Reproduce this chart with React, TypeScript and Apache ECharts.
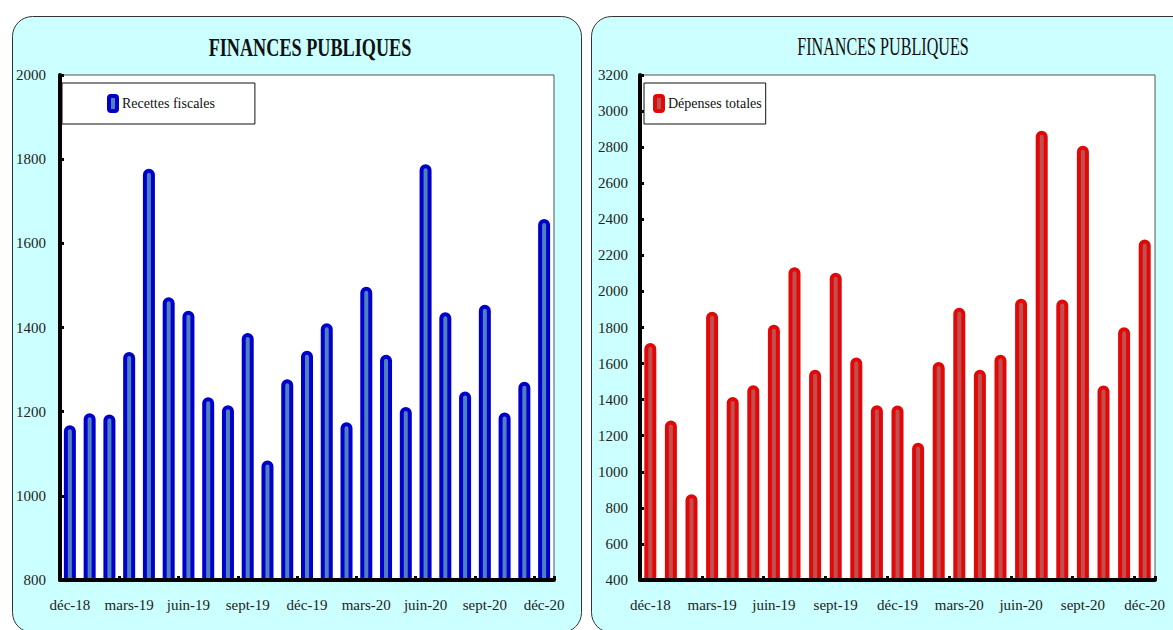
import React, { useEffect, useRef } from "react";
import * as echarts from "echarts";

const months = [
  "déc-18", "janv-19", "févr-19", "mars-19", "avr-19", "mai-19", "juin-19",
  "juil-19", "août-19", "sept-19", "oct-19", "nov-19", "déc-19", "janv-20",
  "févr-20", "mars-20", "avr-20", "mai-20", "juin-20", "juil-20", "août-20",
  "sept-20", "oct-20", "nov-20", "déc-20",
];

const recettesFiscales = [
  1168, 1196, 1193, 1342, 1777, 1472, 1440, 1234, 1215, 1387, 1084, 1277, 1345,
  1410, 1175, 1497, 1335, 1211, 1788, 1436, 1248, 1454, 1198, 1271, 1658,
];

const depensesTotales = [
  1714, 1284, 876, 1888, 1415, 1480, 1815, 2134, 1566, 2104, 1634, 1369, 1367,
  1161, 1609, 1910, 1566, 1649, 1960, 2891, 1955, 2808, 1478, 1802, 2288,
];

const title = "FINANCES PUBLIQUES";
const leftSeriesName = "Recettes fiscales";
const rightSeriesName = "Dépenses totales";

const FONT = "'Liberation Serif', 'DejaVu Serif', serif";

export default function App() {
  const ref = useRef<HTMLDivElement>(null);

  useEffect(() => {
    if (!ref.current) return;
    const chart = echarts.init(ref.current, undefined, { renderer: "svg" });

    const blue = { color: "#4f81bd", borderColor: "#0000cc", borderWidth: 4, borderRadius: [5, 5, 0, 0] };
    const red = { color: "#c0504d", borderColor: "#e00808", borderWidth: 4, borderRadius: [5, 5, 0, 0] };

    const axisLine = { show: true, lineStyle: { color: "#000", width: 4 } };
    const yTick = { show: true, inside: true, length: 4, lineStyle: { color: "#000", width: 3 } };
    const xTick = { show: true, inside: true, interval: 2, length: 4, lineStyle: { color: "#000", width: 3 } };
    const labelStyle = { fontFamily: FONT, fontSize: 15, color: "#222" };
    const plain = (v: number) => String(v);

    chart.setOption({
      animation: false,
      backgroundColor: "#ffffff",
      graphic: [
        {
          type: "rect",
          z: -10,
          shape: { x: 12.5, y: 16.5, width: 569, height: 616, r: 20 },
          style: { fill: "#ccffff", stroke: "#333", lineWidth: 1 },
        },
        {
          type: "rect",
          z: -10,
          shape: { x: 591.5, y: 16.5, width: 620, height: 616, r: 20 },
          style: { fill: "#ccffff", stroke: "#333", lineWidth: 1 },
        },
        {
          type: "text",
          z: 10,
          x: 310,
          y: 47,
          scaleX: 0.7,
          style: {
            text: title,
            x: 0,
            y: 0,
            align: "center",
            verticalAlign: "middle",
            fontFamily: FONT,
            fontSize: 26,
            fontWeight: "bold",
            fill: "#111",
          },
        },
        {
          type: "text",
          z: 10,
          x: 883,
          y: 47,
          scaleX: 0.62,
          style: {
            text: title,
            x: 0,
            y: 0,
            align: "center",
            verticalAlign: "middle",
            fontFamily: FONT,
            fontSize: 26,
            fontWeight: "normal",
            fill: "#111",
          },
        },
      ],
      grid: [
        {
          left: 60, right: 619, top: 75, bottom: 50,
          show: true, backgroundColor: "#ffffff", borderColor: "#555", borderWidth: 1,
        },
        {
          left: 640, right: 18, top: 75, bottom: 50,
          show: true, backgroundColor: "#ffffff", borderColor: "#555", borderWidth: 1,
        },
      ],
      legend: [
        {
          data: [{ name: leftSeriesName, itemStyle: { color: "#4f81bd", borderColor: "#0000cc", borderWidth: 4 } }],
          left: 62,
          top: 83,
          padding: [11, 40, 11, 45],
          icon: "roundRect",
          itemWidth: 8,
          itemHeight: 15,
          backgroundColor: "#ffffff",
          borderColor: "#111",
          borderWidth: 1,
          textStyle: { fontFamily: FONT, fontSize: 14, color: "#111" },
        },
        {
          data: [{ name: rightSeriesName, itemStyle: { color: "#c0504d", borderColor: "#e00808", borderWidth: 4 } }],
          left: 644,
          top: 83,
          padding: [11, 4, 11, 9],
          icon: "roundRect",
          itemWidth: 8,
          itemHeight: 15,
          backgroundColor: "#ffffff",
          borderColor: "#111",
          borderWidth: 1,
          textStyle: { fontFamily: FONT, fontSize: 14, color: "#111" },
        },
      ],
      xAxis: [
        {
          type: "category",
          gridIndex: 0,
          data: months,
          z: 10,
          boundaryGap: true,
          axisLine,
          axisTick: xTick,
          axisLabel: { ...labelStyle, interval: 2, margin: 17 },
        },
        {
          type: "category",
          gridIndex: 1,
          data: months,
          z: 10,
          boundaryGap: true,
          axisLine,
          axisTick: xTick,
          axisLabel: { ...labelStyle, interval: 2, margin: 17 },
        },
      ],
      yAxis: [
        {
          type: "value",
          gridIndex: 0,
          min: 800,
          max: 2000,
          interval: 200,
          z: 10,
          axisLine,
          axisTick: yTick,
          splitLine: { show: false },
          axisLabel: { ...labelStyle, margin: 14, formatter: plain },
        },
        {
          type: "value",
          gridIndex: 1,
          min: 400,
          max: 3200,
          interval: 200,
          z: 10,
          axisLine,
          axisTick: yTick,
          splitLine: { show: false },
          axisLabel: { ...labelStyle, margin: 12, formatter: plain },
        },
      ],
      series: [
        {
          name: leftSeriesName,
          type: "bar",
          xAxisIndex: 0,
          yAxisIndex: 0,
          data: recettesFiscales,
          barWidth: 12,
          itemStyle: blue,
        },
        {
          name: rightSeriesName,
          type: "bar",
          xAxisIndex: 1,
          yAxisIndex: 1,
          data: depensesTotales,
          barWidth: 12,
          itemStyle: red,
        },
      ],
    });

    return () => chart.dispose();
  }, []);

  return (
    <div
      ref={ref}
      style={{ position: "absolute", left: 0, top: 0, width: 1173, height: 630 }}
    />
  );
}
